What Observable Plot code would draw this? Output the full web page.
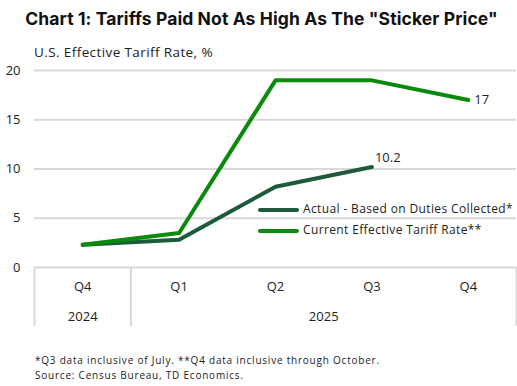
<!DOCTYPE html>
<html>
<head>
<meta charset="utf-8">
<script src="https://cdn.jsdelivr.net/npm/d3@7"></script>
<script src="https://cdn.jsdelivr.net/npm/@observablehq/plot@0.6"></script>
<style>
  html, body { margin: 0; padding: 0; background: #fff; }
  #wrap { position: relative; width: 517px; height: 386px; font-family: "Open Sans", sans-serif; color: #222; overflow: hidden; }
  #title { position: absolute; left: 0; top: 8px; width: 523px; text-align: center; font-family: Inter, sans-serif; font-weight: 700; font-size: 17.5px; letter-spacing: 0.1px; color: #111; }
  #subtitle { position: absolute; left: 34px; top: 43px; font-size: 13.5px; letter-spacing: 0.4px; }
  #chart { position: absolute; left: 0; top: 40px; }
  #legend { position: absolute; left: 258px; top: 200px; font-size: 12px; letter-spacing: 0.37px; }
  .item { height: 21px; line-height: 18px; white-space: nowrap; }
  .sw { display: inline-block; width: 41px; height: 4px; border-radius: 2px; vertical-align: middle; margin-right: 4px; }
  #foot { position: absolute; left: 35px; top: 353px; font-size: 10px; line-height: 14.5px; letter-spacing: 0.78px; white-space: nowrap; }
</style>
</head>
<body>
<div id="wrap">
  <div id="title"></div>
  <div id="subtitle"></div>
  <div id="chart"></div>
  <div id="legend"></div>
  <div id="foot"></div>
</div>
<script>
const titleText = 'Chart 1: Tariffs Paid Not As High As The "Sticker Price"';
const subtitleText = "U.S. Effective Tariff Rate, %";
const quarters = ["Q4", "Q1", "Q2", "Q3", "Q4"];
const years = [{label: "2024", from: 0, to: 0}, {label: "2025", from: 1, to: 4}];
const actual = [2.3, 2.8, 8.2, 10.2];
const current = [2.3, 3.5, 19, 19, 17];
const seriesNames = ["Actual - Based on Duties Collected*", "Current Effective Tariff Rate**"];
const seriesColors = ["#1d5a3a", "#0a8a0a"];
const yTicks = [0, 5, 10, 15, 20];
const footLines = ["*Q3 data inclusive of July. **Q4 data inclusive through October.", "Source: Census Bureau, TD Economics."];

document.getElementById("title").textContent = titleText;
document.getElementById("subtitle").textContent = subtitleText;
document.getElementById("foot").innerHTML = footLines.map(s => `<div>${s}</div>`).join("");
document.getElementById("legend").innerHTML = seriesNames.map((n, i) =>
  `<div class="item"><span class="sw" style="background:${seriesColors[i]}"></span>${n}</div>`).join("");

const actualData = actual.map((v, i) => ({i, v}));
const currentData = current.map((v, i) => ({i, v}));
const qData = quarters.map((q, i) => ({i, q}));
const boundaries = [-0.5, ...years.map(y => y.to + 0.5)];
const grey = "#d9d9d9";

const plot = Plot.plot({
  width: 517,
  height: 300,
  marginLeft: 34,
  marginRight: 1,
  marginTop: 30,
  marginBottom: 14,
  x: {domain: [-0.5, quarters.length - 0.5], axis: null},
  y: {domain: [-6, 20], axis: null},
  style: {fontFamily: "'Open Sans', sans-serif", fontSize: "13px", color: "#222"},
  marks: [
    Plot.ruleY(yTicks, {stroke: grey, strokeWidth: 2}),
    Plot.ruleX(boundaries, {y1: 0, y2: -6, stroke: grey, strokeWidth: 2}),
    Plot.text(yTicks, {x: -0.5, y: d => d, text: d => String(d), textAnchor: "end", dx: -14, fontSize: 13, fill: "#222"}),
    Plot.text(qData, {x: "i", y: -2, text: "q", fontSize: 13, fill: "#222"}),
    Plot.text(years, {x: d => (d.from + d.to) / 2, y: -5, text: "label", fontSize: 13, fill: "#222"}),
    Plot.line(actualData, {x: "i", y: "v", stroke: seriesColors[0], strokeWidth: 4, strokeLinecap: "round", strokeLinejoin: "round"}),
    Plot.line(currentData, {x: "i", y: "v", stroke: seriesColors[1], strokeWidth: 4, strokeLinecap: "round", strokeLinejoin: "round"}),
    Plot.text(actualData.slice(-1), {x: "i", y: "v", text: d => String(d.v), textAnchor: "start", dx: 3, dy: -9, fontSize: 13, fill: "#222"}),
    Plot.text(currentData.slice(-1), {x: "i", y: "v", text: d => String(d.v), textAnchor: "start", dx: 6, dy: 0, fontSize: 13, fill: "#222"})
  ]
});
document.getElementById("chart").appendChild(plot);
</script>
</body>
</html>
